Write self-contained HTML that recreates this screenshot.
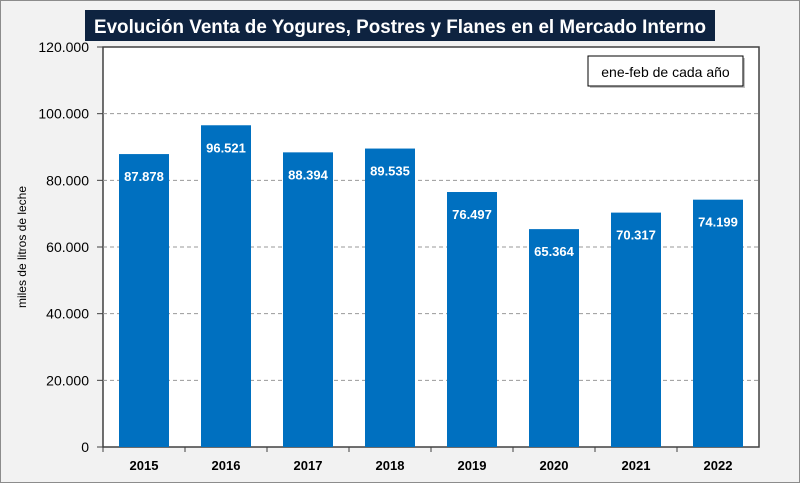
<!DOCTYPE html>
<html><head><meta charset="utf-8"><style>
body{margin:0;background:#fff}
svg{display:block;font-family:"Liberation Sans",sans-serif}
</style></head><body>
<svg id="chart" width="800" height="483" viewBox="0 0 800 483">
<rect x="0.5" y="0.5" width="799" height="482" fill="#f2f2f2" stroke="#8c8c8c"/>
<rect x="85" y="10" width="630" height="31" fill="#0e2340"/>
<text x="400" y="33" text-anchor="middle" fill="#fff" font-size="19" font-weight="bold" textLength="612" lengthAdjust="spacingAndGlyphs">Evolución Venta de Yogures, Postres y Flanes en el Mercado Interno</text>
<rect x="103" y="47" width="656" height="400" fill="#fff" stroke="#404040" stroke-width="1.5"/>
<g id="grid"></g><g id="bars"></g><g id="axes"></g>
<text transform="translate(26,247) rotate(-90)" text-anchor="middle" font-size="12" fill="#000">miles de litros de leche</text>
<rect x="590" y="58" width="155" height="30" fill="#999" opacity="0.6"/>
<rect x="588" y="56" width="155" height="30" fill="#fff" stroke="#000"/>
<text x="665.5" y="77" text-anchor="middle" font-size="14">ene-feb de cada año</text>
</svg>
<script>
const categories=["2015","2016","2017","2018","2019","2020","2021","2022"];
const values=[87878,96521,88394,89535,76497,65364,70317,74199];
const valueLabels=["87.878","96.521","88.394","89.535","76.497","65.364","70.317","74.199"];
const yTicks=[0,20000,40000,60000,80000,100000,120000];
const yTickLabels=["0","20.000","40.000","60.000","80.000","100.000","120.000"];
const NS="http://www.w3.org/2000/svg";
const L=103,R=759,T=47,B=447,yMax=120000;
const bw=(R-L)/categories.length;
function y(v){return B-(v/yMax)*(B-T);}
function x(i){return L+bw*i;}
function mk(tag,attrs,parent){const e=document.createElementNS(NS,tag);for(const k in attrs)e.setAttribute(k,attrs[k]);document.getElementById(parent).appendChild(e);return e;}
yTicks.forEach((t,i)=>{
  if(t>0&&t<yMax){const g=mk('line',{x1:L,x2:R,y1:y(t),y2:y(t),stroke:'#999','stroke-dasharray':'4,3'},'grid');
  
  }
  const tk=mk('line',{x1:L-6,x2:L,y1:y(t),y2:y(t),stroke:'#404040'},'axes');
  
  
  const lb=mk('text',{x:L-14,y:y(t)+5,'text-anchor':'end','font-size':'14'},'axes');
  lb.textContent=yTickLabels[i];
  
  
});
categories.forEach((c,i)=>{
  const bx=x(i)+16, w=bw-32;
  const r=mk('rect',{x:bx,y:y(values[i]),width:w,height:B-y(values[i]),fill:'#0070c0'},'bars');
  
  
  const vl=mk('text',{x:bx+w/2,y:y(values[i])+27,'text-anchor':'middle','font-size':'13','font-weight':'bold',fill:'#fff'},'bars');
  vl.textContent=valueLabels[i];
  
  
  const tk=mk('line',{x1:x(i),x2:x(i),y1:B,y2:B+5,stroke:'#404040'},'axes');
  
  
  const xl=mk('text',{x:x(i)+bw/2,y:B+23,'text-anchor':'middle','font-size':'13','font-weight':'bold'},'axes');
  xl.textContent=c;
  
  
});
</script>
</body></html>
